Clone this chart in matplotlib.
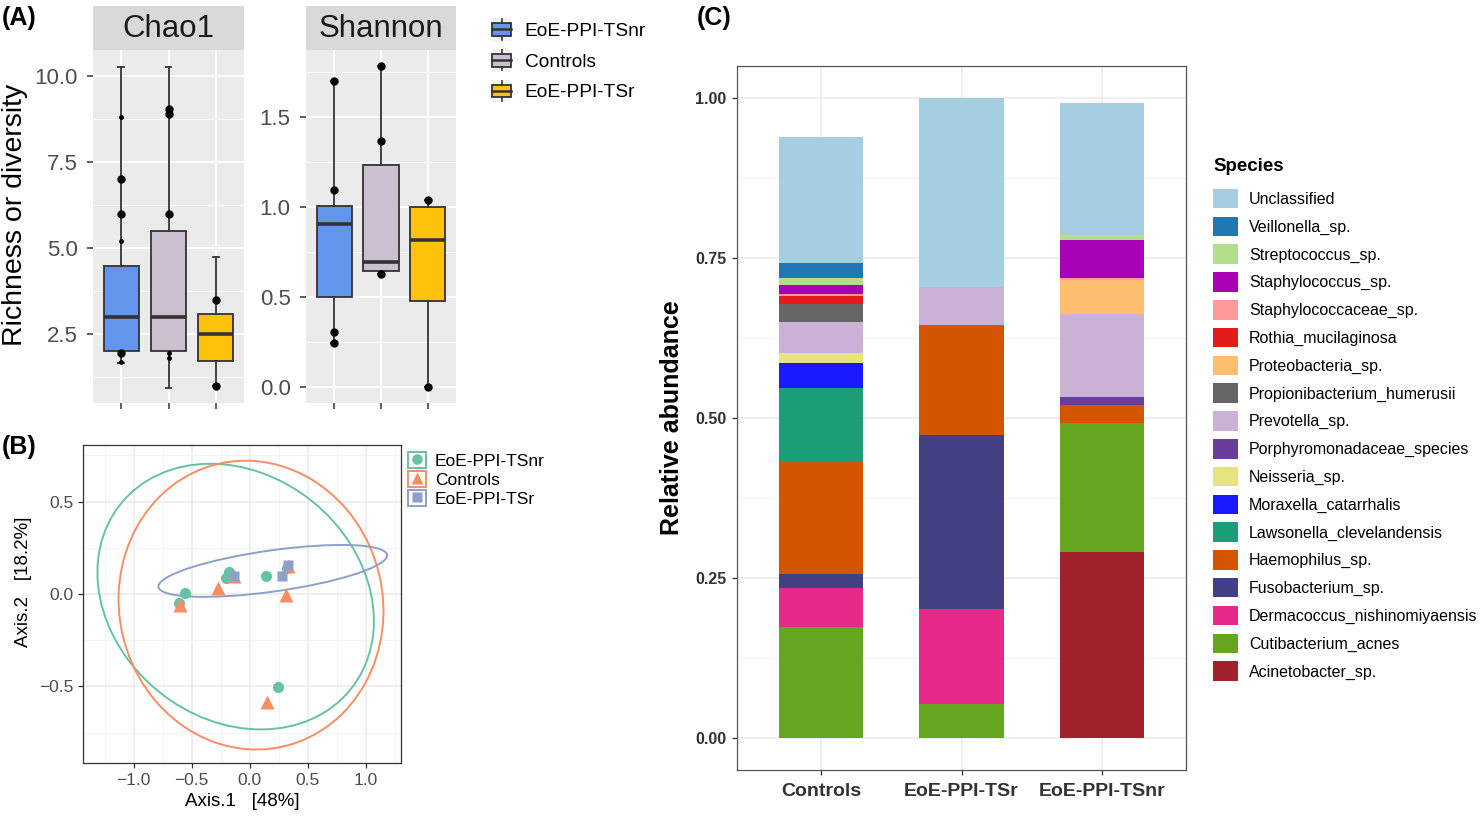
import numpy as np
import matplotlib
matplotlib.use("Agg")
import matplotlib.pyplot as plt
from matplotlib.patches import Rectangle, Ellipse, Patch
from matplotlib.lines import Line2D
from matplotlib.legend_handler import HandlerBase

plt.rcParams['font.family'] = ['Liberation Sans', 'DejaVu Sans']

W, H = 1483, 818

# ---- panel A : alpha diversity boxplots ----
groups_a = ['EoE-PPI-TSnr', 'Controls', 'EoE-PPI-TSr']
box_colors = ['#6495ED', '#CBC0CF', '#FFC20A']

chao_lo = [1.66, 0.95, 0.99]
chao_q1 = [2.0, 2.0, 1.72]
chao_med = [3.0, 3.0, 2.5]
chao_q3 = [4.49, 5.5, 3.1]
chao_hi = [10.27, 10.27, 4.73]
chao_pts = [[7.0, 6.0, 1.95], [9.05, 8.9, 6.0], [3.5, 0.99]]
chao_small = [[8.8, 5.2, 1.7], [1.95, 1.8], []]

shan_lo = [0.245, 0.63, 0.0]
shan_q1 = [0.5, 0.647, 0.476]
shan_med = [0.908, 0.694, 0.815]
shan_q3 = [1.005, 1.23, 1.0]
shan_hi = [1.70, 1.78, 1.037]
shan_pts = [[1.70, 1.096, 0.306, 0.245], [1.78, 1.365, 0.63], [1.037, 0.0]]
shan_small = [[], [], []]

# ---- panel B : PCoA ----
pcoa_groups = ['EoE-PPI-TSnr', 'Controls', 'EoE-PPI-TSr']
pcoa_colors = ['#66C2A5', '#FC8D62', '#8DA0CB']
pcoa_markers = ['o', '^', 's']
pcoa_x = [[-0.558, -0.61, -0.18, -0.209, 0.135, 0.321, 0.244],
          [-0.6, -0.272, -0.137, 0.313, 0.149, 0.33],
          [-0.137, 0.278, 0.33]]
pcoa_y = [[0.004, -0.047, 0.12, 0.088, 0.097, 0.139, -0.501],
          [-0.06, 0.03, 0.097, -0.005, -0.582, 0.15],
          [0.097, 0.097, 0.157]]
# ellipses: centre x, centre y, semi-major, semi-minor, angle (deg)
ell_cx = [-0.122, 0.01, 0.197]
ell_cy = [-0.014, -0.06, 0.125]
ell_a = [1.2, 1.14, 0.987]
ell_b = [0.7, 0.78, 0.112]
ell_ang = [-9.6, -3.0, 4.95]

# ---- panel C : relative abundance ----
bar_groups = ['Controls', 'EoE-PPI-TSr', 'EoE-PPI-TSnr']
species = ['Unclassified', 'Veillonella_sp.', 'Streptococcus_sp.', 'Staphylococcus_sp.',
           'Staphylococcaceae_sp.', 'Rothia_mucilaginosa', 'Proteobacteria_sp.',
           'Propionibacterium_humerusii', 'Prevotella_sp.', 'Porphyromonadaceae_species',
           'Neisseria_sp.', 'Moraxella_catarrhalis', 'Lawsonella_clevelandensis',
           'Haemophilus_sp.', 'Fusobacterium_sp.', 'Dermacoccus_nishinomiyaensis',
           'Cutibacterium_acnes', 'Acinetobacter_sp.']
species_colors = ['#A6CEE3', '#1F78B4', '#B2DF8A', '#A800B4', '#FB9A99', '#E41A1C',
                  '#FDBF6F', '#666666', '#CAB2D6', '#6A3D9A', '#E5E47D', '#1A1AFF',
                  '#1B9E77', '#D45500', '#423F85', '#E7298A', '#66A61E', '#A0222A']
abund_controls = [0.196, 0.0236, 0.0117, 0.014, 0.0024, 0.0136, 0.0, 0.028, 0.048, 0.0,
                  0.016, 0.039, 0.113, 0.177, 0.022, 0.0615, 0.173, 0.0]
abund_tsr = [0.296, 0, 0, 0, 0, 0, 0, 0, 0.058, 0, 0, 0, 0, 0.173, 0.271, 0.149, 0.053, 0]
abund_tsnr = [0.206, 0, 0.008, 0.059, 0.0045, 0, 0.052, 0, 0.130, 0.013, 0, 0, 0,
              0.028, 0, 0, 0.201, 0.291]

fig = plt.figure(figsize=(W / 100, H / 100), dpi=100)


def px_axes(x0, y0, x1, y1):
    return fig.add_axes([x0 / W, 1 - y1 / H, (x1 - x0) / W, (y1 - y0) / H])


def box_panel(ax, lo, q1, med, q3, hi, pts, small, yticks, yminor, ylim, fmt):
    stats = []
    for i in range(3):
        stats.append(dict(whislo=lo[i], q1=q1[i], med=med[i], q3=q3[i], whishi=hi[i], fliers=[]))
    ax.set_facecolor('#EBEBEB')
    for t in yminor:
        ax.axhline(t, color='white', lw=0.6, zorder=0)
    for t in yticks:
        ax.axhline(t, color='white', lw=1.3, zorder=0)
    for t in [1, 2, 3]:
        ax.axvline(t, color='white', lw=1.3, zorder=0)
    bp = ax.bxp(stats, positions=[1, 2, 3], widths=0.75, patch_artist=True, capwidths=0.12,
                boxprops=dict(edgecolor='#333333', lw=1.3),
                medianprops=dict(color='#333333', lw=2.6),
                whiskerprops=dict(color='#333333', lw=1.3),
                capprops=dict(color='#333333', lw=1.3), zorder=2)
    for patch, c in zip(bp['boxes'], box_colors):
        patch.set_facecolor(c)
    for i in range(3):
        ax.plot([i + 1] * len(pts[i]), pts[i], 'o', color='black', ms=5, zorder=4)
        ax.plot([i + 1] * len(small[i]), small[i], 'o', color='black', ms=2.5, zorder=4)
    ax.set_xlim(0.4, 3.6)
    ax.set_ylim(*ylim)
    ax.set_yticks(yticks)
    ax.set_yticklabels([fmt % t for t in yticks])
    ax.set_xticks([1, 2, 3])
    ax.set_xticklabels([])
    for s in ax.spines.values():
        s.set_visible(False)
    ax.tick_params(colors='#333333', labelcolor='#4D4D4D', labelsize=16, length=4, width=1.1,
                   pad=7)


ax1 = px_axes(93, 50, 244, 403)
box_panel(ax1, chao_lo, chao_q1, chao_med, chao_q3, chao_hi, chao_pts, chao_small,
          [2.5, 5.0, 7.5, 10.0], [1.25, 3.75, 6.25, 8.75], (0.5, 10.76), '%.1f')
ax2 = px_axes(306, 50, 456, 403)
box_panel(ax2, shan_lo, shan_q1, shan_med, shan_q3, shan_hi, shan_pts, shan_small,
          [0.0, 0.5, 1.0, 1.5], [0.25, 0.75, 1.25, 1.75], (-0.087, 1.87), '%.1f')

for (x0, x1), name in zip([(93, 244), (306, 456)], ['Chao1', 'Shannon']):
    sax = px_axes(x0, 6, x1, 50)
    sax.set_facecolor('#D9D9D9')
    sax.set_xticks([])
    sax.set_yticks([])
    for s in sax.spines.values():
        s.set_visible(False)
    sax.text(0.5, 0.47, name, ha='center', va='center', fontsize=22.5, color='#1A1A1A',
             transform=sax.transAxes)

fig.text(15 / W, 1 - 215 / H, 'Richness or diversity', rotation=90, ha='center', va='center',
         fontsize=20.5)


class BoxHandler(HandlerBase):
    def create_artists(self, legend, orig_handle, xdescent, ydescent, width, height,
                       fontsize, trans):
        x0, y0 = -xdescent, -ydescent
        bg = Rectangle((x0, y0), width, height, fc='#F2F2F2', ec='none', transform=trans)
        box = Rectangle((x0, y0 + height * 0.22), width, height * 0.56,
                        fc=orig_handle.get_facecolor(), ec='#333333', lw=1.3, transform=trans)
        med = Line2D([x0, x0 + width], [y0 + height / 2] * 2, color='#333333', lw=1.8,
                     transform=trans)
        wl = Line2D([x0 + width / 2] * 2, [y0 + height * 0.05, y0 + height * 0.22],
                    color='#333333', lw=1.2, transform=trans)
        wh = Line2D([x0 + width / 2] * 2, [y0 + height * 0.78, y0 + height * 0.95],
                    color='#333333', lw=1.2, transform=trans)
        return [bg, box, med, wl, wh]


handles_a = [Patch(facecolor=c) for c in box_colors]
fig.legend(handles_a, groups_a, loc='upper left', bbox_to_anchor=(492 / W, 1 - 18 / H),
           frameon=False, fontsize=13.8, handler_map={Patch: BoxHandler()},
           handlelength=1.0, handleheight=1.45, labelspacing=0.42, handletextpad=0.7,
           borderpad=0, borderaxespad=0)

# ---- panel B ----
ax3 = px_axes(83, 445, 401, 763)
for i in range(3):
    ax3.add_patch(Ellipse((ell_cx[i], ell_cy[i]), 2 * ell_a[i], 2 * ell_b[i], angle=ell_ang[i],
                          fill=False, ec=pcoa_colors[i], lw=1.4, zorder=2))
ms_b = [8, 9.5, 7.5]
for i in range(3):
    ax3.plot(pcoa_x[i], pcoa_y[i], pcoa_markers[i], color=pcoa_colors[i], ms=ms_b[i],
             mec='none', zorder=3)
ax3.set_xlim(-1.435, 1.30)
ax3.set_ylim(-0.914, 0.806)
ax3.set_xticks([-1.0, -0.5, 0.0, 0.5, 1.0])
ax3.set_xticklabels(['\u22121.0', '\u22120.5', '0.0', '0.5', '1.0'])
ax3.set_yticks([-0.5, 0.0, 0.5])
ax3.set_yticklabels(['\u22120.5', '0.0', '0.5'])
ax3.set_xticks([-1.25, -0.75, -0.25, 0.25, 0.75, 1.25], minor=True)
ax3.set_yticks([-0.75, -0.25, 0.25, 0.75], minor=True)
ax3.grid(which='major', color='#EBEBEB', lw=1.1)
ax3.grid(which='minor', color='#F4F4F4', lw=0.7)
ax3.set_axisbelow(True)
ax3.tick_params(which='major', colors='#333333', labelcolor='#4D4D4D', labelsize=12.5,
                length=3.5, width=0.9)
ax3.tick_params(which='minor', length=0)
for s in ax3.spines.values():
    s.set_color('#333333')
    s.set_linewidth(0.9)
ax3.set_xlabel('Axis.1   [48%]', fontsize=13.5, labelpad=4)
ax3.set_ylabel('Axis.2   [18.2%]', fontsize=13.5)
ax3.yaxis.set_label_coords(-0.16, 0.57)

handles_b = []
for i in range(3):
    rect = Patch(facecolor='white', edgecolor=pcoa_colors[i], lw=1.4)
    mk = Line2D([], [], ls='none', marker=pcoa_markers[i], color=pcoa_colors[i], ms=ms_b[i] * 0.95,
                mec='none')
    handles_b.append((rect, mk))
fig.legend(handles_b, pcoa_groups, loc='upper left', bbox_to_anchor=(408 / W, 1 - 452 / H),
           frameon=False, fontsize=12.5, handlelength=1.05, handleheight=1.05,
           labelspacing=0.12, handletextpad=0.5, borderpad=0, borderaxespad=0)

# ---- panel C ----
ax4 = px_axes(737, 66, 1186, 770)
abund = np.array([abund_controls, abund_tsr, abund_tsnr])
xpos = np.arange(1, 4)
bottom = np.zeros(3)
for j in range(len(species) - 1, -1, -1):
    ax4.bar(xpos, abund[:, j], 0.6, bottom=bottom, color=species_colors[j], lw=0, zorder=2)
    bottom += abund[:, j]
ax4.set_xlim(0.4, 3.6)
ax4.set_ylim(-0.05, 1.05)
ax4.set_xticks(xpos)
ax4.set_xticklabels(bar_groups, fontweight='bold', fontsize=14, color='#333333')
ax4.set_yticks([0, 0.25, 0.5, 0.75, 1.0])
ax4.set_yticklabels(['0.00', '0.25', '0.50', '0.75', '1.00'], fontweight='bold', fontsize=11.5,
                    color='#333333')
ax4.set_yticks([0.125, 0.375, 0.625, 0.875], minor=True)
ax4.grid(which='major', color='#EBEBEB', lw=1.1)
ax4.grid(which='minor', axis='y', color='#F4F4F4', lw=0.7)
ax4.set_axisbelow(True)
ax4.tick_params(which='major', colors='#333333', length=3.5, width=0.9, pad=4)
ax4.tick_params(axis='x', pad=6)
ax4.tick_params(which='minor', length=0)
for s in ax4.spines.values():
    s.set_color('#555555')
    s.set_linewidth(0.9)
ax4.set_ylabel('Relative abundance', fontsize=18, fontweight='bold', labelpad=8)

handles_c = [Patch(facecolor=c) for c in species_colors]
leg_c = fig.legend(handles_c, species, loc='upper left', bbox_to_anchor=(1213 / W, 1 - 158 / H),
                   frameon=False, fontsize=11.5, title='Species',
                   title_fontproperties={'weight': 'bold', 'size': 13.5}, alignment='left',
                   handlelength=1.55, handleheight=1.5, labelspacing=0.52, handletextpad=0.7,
                   borderpad=0, borderaxespad=0)
leg_c._legend_box.sep = 10

fig.text(2 / W, 1 - 18 / H, '(A)', fontsize=18, fontweight='bold', va='center')
fig.text(2 / W, 1 - 447 / H, '(B)', fontsize=18, fontweight='bold', va='center')
fig.text(697 / W, 1 - 18 / H, '(C)', fontsize=18, fontweight='bold', va='center')

fig.savefig('out.png', dpi=100)
